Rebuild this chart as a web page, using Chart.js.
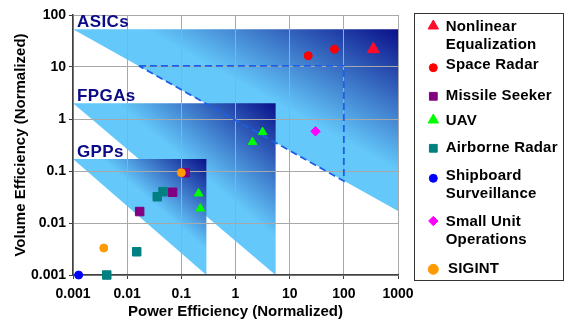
<!DOCTYPE html>
<html>
<head>
<meta charset="utf-8">
<script src="https://cdn.jsdelivr.net/npm/chart.js@4.4.1/dist/chart.umd.min.js"></script>
<style>
  body { margin: 0; background: #fff; font-family: "Liberation Sans", Arial, sans-serif; }
  #wrap { position: relative; width: 569px; height: 321px; }
  #legend { position: absolute; left: 414px; top: 13px; width: 150px; height: 268px;
            border: 1px solid #333; box-sizing: border-box; }
  .item { position: absolute; font-weight: bold; font-size: 15px; line-height: 18px;
          letter-spacing: 0.2px; color: #000; white-space: nowrap; }
</style>
</head>
<body>
<div id="wrap">
  <canvas id="chart" width="569" height="321"></canvas>
  <div id="legend"></div>
</div>
<script>
// ------------------------------------------------------------
// Data
// ------------------------------------------------------------
const xTicks = [0.001, 0.01, 0.1, 1, 10, 100, 1000];
const yTicks = [0.001, 0.01, 0.1, 1, 10, 100];

const nleX = [350];                         const nleY = [22];
const spaceRadarX = [22, 67];               const spaceRadarY = [16.5, 22];
const missileX = [0.118, 0.069, 0.017];     const missileY = [0.093, 0.039, 0.0166];
const uavX = [2.06, 3.16, 0.208, 0.224];    const uavY = [0.36, 0.56, 0.037, 0.019];
const airborneX = [0.036, 0.046, 0.015, 0.0042];
const airborneY = [0.032, 0.040, 0.0028, 0.001];
const shipboardX = [0.00127];               const shipboardY = [0.001];
const smallUnitX = [30];                    const smallUnitY = [0.58];
const sigintX = [0.1, 0.0037];              const sigintY = [0.093, 0.0033];

// technology regions: left vertex, top-right corner, bottom vertex
const regionNames = ['ASICs', 'FPGAs', 'GPPs'];
const asicX = [0.001, 1000, 1000];  const asicY = [53, 53, 0.017];
const fpgaX = [0.001, 5.5, 5.5];    const fpgaY = [2, 2, 0.001];
const gppX = [0.001, 0.29, 0.29];   const gppY = [0.17, 0.17, 0.001];

// dashed outline inside the ASIC region
const dashX = [0.0165, 100, 100, 0.0165];
const dashY = [10.5, 10.5, 0.064, 10.5];

// ------------------------------------------------------------
const FONT = '"Liberation Sans", Arial, sans-serif';
const LIGHT = '#64c8fa';
const DARK = '#0a108a';

const toPoints = (xs, ys) => xs.map((v, i) => ({ x: v, y: ys[i] }));

const series = [
  { label: ['Nonlinear', 'Equalization'], xs: nleX, ys: nleY, style: 'triangle', color: '#ff0a2a', r: 7, lr: 6 },
  { label: ['Space Radar'], xs: spaceRadarX, ys: spaceRadarY, style: 'circle', color: '#ff0000', r: 4, lr: 4 },
  { label: ['Missile Seeker'], xs: missileX, ys: missileY, style: 'rect', color: '#800080', r: 6, lr: 5.5 },
  { label: ['UAV'], xs: uavX, ys: uavY, style: 'triangle', color: '#00ff00', r: 5, lr: 6 },
  { label: ['Airborne Radar'], xs: airborneX, ys: airborneY, style: 'rect', color: '#008080', r: 6, lr: 5.5 },
  { label: ['Shipboard', 'Surveillance'], xs: shipboardX, ys: shipboardY, style: 'circle', color: '#0000ff', r: 4, lr: 4 },
  { label: ['Small Unit', 'Operations'], xs: smallUnitX, ys: smallUnitY, style: 'rectRot', color: '#ff00ff', r: 4.7, lr: 4.7 },
  { label: ['SIGINT'], xs: sigintX, ys: sigintY, style: 'circle', color: '#ff9900', r: 4, lr: 5 }
];

// legend layout (page pixels)
const legendTextTops = [17, 55, 86, 111, 137.5, 166, 211.5, 259];
const legendMarkerY = [26, 67.7, 96.3, 120, 148.3, 178.3, 221, 269.3];
const legendMarkerX = 433.3;

const regions = [
  { xs: asicX, ys: asicY, name: regionNames[0] },
  { xs: fpgaX, ys: fpgaY, name: regionNames[1] },
  { xs: gppX, ys: gppY, name: regionNames[2] }
];

function regionPixels(chart, reg) {
  const { x, y } = chart.scales;
  return reg.xs.map((v, i) => [x.getPixelForValue(v), y.getPixelForValue(reg.ys[i])]);
}

const regionPlugin = {
  id: 'regions',
  beforeDraw(chart) {
    const { ctx, chartArea } = chart;
    ctx.save();
    ctx.beginPath();
    ctx.rect(chartArea.left, chartArea.top, chartArea.width, chartArea.height);
    ctx.clip();
    regions.forEach(reg => {
      const p = regionPixels(chart, reg);
      // gradient runs from the hypotenuse (light) to the right-angle corner (dark)
      const hx = p[2][0] - p[0][0], hy = p[2][1] - p[0][1];
      const k = ((p[1][0] - p[0][0]) * hx + (p[1][1] - p[0][1]) * hy) / (hx * hx + hy * hy);
      const fx = p[0][0] + k * hx, fy = p[0][1] + k * hy;
      const g = ctx.createLinearGradient(fx, fy, p[1][0], p[1][1]);
      g.addColorStop(0, LIGHT);
      g.addColorStop(0.22, LIGHT);
      g.addColorStop(1, DARK);
      ctx.fillStyle = g;
      ctx.beginPath();
      ctx.moveTo(p[0][0], p[0][1]);
      ctx.lineTo(p[1][0], p[1][1]);
      ctx.lineTo(p[2][0], p[2][1]);
      ctx.closePath();
      ctx.fill();
    });
    ctx.restore();
  },
  afterDatasetsDraw(chart) {
    const { ctx } = chart;
    ctx.save();
    ctx.font = 'bold 17px ' + FONT;
    ctx.fillStyle = '#0b0b88';
    ctx.textBaseline = 'alphabetic';
    try { ctx.letterSpacing = '0.4px'; } catch (e) {}
    regions.forEach(reg => {
      const p = regionPixels(chart, reg);
      ctx.fillText(reg.name, p[0][0] + 4, p[0][1] - 2);
    });
    ctx.restore();
  },
  afterDraw(chart) {
    const { ctx } = chart;
    series.forEach((s, i) => {
      ctx.save();
      ctx.fillStyle = s.color;
      ctx.strokeStyle = s.color;
      ctx.lineWidth = 1;
      const opts = { pointStyle: s.style, radius: s.lr, rotation: 0, borderWidth: 1 };
      if (Chart.helpers && Chart.helpers.drawPoint) {
        Chart.helpers.drawPoint(ctx, opts, legendMarkerX, legendMarkerY[i]);
      } else {
        ctx.beginPath();
        ctx.arc(legendMarkerX, legendMarkerY[i], s.lr, 0, Math.PI * 2);
        ctx.fill();
      }
      ctx.restore();
    });
  }
};

const datasets = series.map((s, i) => ({
  label: s.label.join(' '),
  data: toPoints(s.xs, s.ys),
  pointStyle: s.style,
  pointRadius: s.r,
  pointHoverRadius: s.r,
  backgroundColor: s.color,
  borderColor: s.color,
  borderWidth: 1,
  order: series.length - i,
  clip: false
}));

datasets.push({
  label: 'dash',
  data: toPoints(dashX, dashY),
  showLine: true,
  borderColor: '#1f5fe6',
  borderWidth: 1.8,
  borderDash: [7, 4],
  pointRadius: 0,
  fill: false,
  order: 50
});

const tickFont = { family: FONT, size: 14, weight: 'bold' };
const titleFont = { family: FONT, size: 15, weight: 'bold' };

new Chart(document.getElementById('chart'), {
  type: 'scatter',
  data: { datasets },
  options: {
    responsive: false,
    animation: false,
    layout: { padding: { top: 15, right: 171, bottom: 0, left: 0 } },
    plugins: { legend: { display: false }, tooltip: { enabled: false } },
    scales: {
      x: {
        type: 'logarithmic',
        min: 0.001,
        max: 1000,
        afterBuildTicks: s => { s.ticks = xTicks.map(v => ({ value: v })); },
        afterFit: s => { s.height = 46; },
        grid: { color: '#a8a8a8', lineWidth: 1, tickLength: 4, tickColor: '#404040' },
        border: { color: '#404040', width: 1.5 },
        ticks: { color: '#000', font: tickFont, padding: 7, maxRotation: 0, autoSkip: false, callback: v => String(v) },
        title: { display: true, text: 'Power Efficiency (Normalized)', color: '#000', font: titleFont, padding: { top: 0, bottom: 0 } }
      },
      y: {
        type: 'logarithmic',
        min: 0.001,
        max: 100,
        afterBuildTicks: s => { s.ticks = yTicks.map(v => ({ value: v })); },
        afterFit: s => { s.width = 73; },
        grid: { color: '#a8a8a8', lineWidth: 1, tickLength: 4, tickColor: '#404040' },
        border: { color: '#404040', width: 1.5 },
        ticks: { color: '#000', font: tickFont, padding: 3, autoSkip: false, callback: v => String(v) },
        title: { display: true, text: 'Volume Efficiency (Normalized)', color: '#000', font: titleFont, padding: { top: 12, bottom: 0 } }
      }
    }
  },
  plugins: [regionPlugin]
});

// HTML legend text
const legend = document.getElementById('legend');
series.forEach((s, i) => {
  const d = document.createElement('div');
  d.className = 'item';
  d.style.left = (i === series.length - 1 ? 33 : 30.7) + 'px';
  d.style.top = (legendTextTops[i] - 14) + 'px';
  d.innerHTML = s.label.join('<br>');
  legend.appendChild(d);
});
</script>
</body>
</html>
